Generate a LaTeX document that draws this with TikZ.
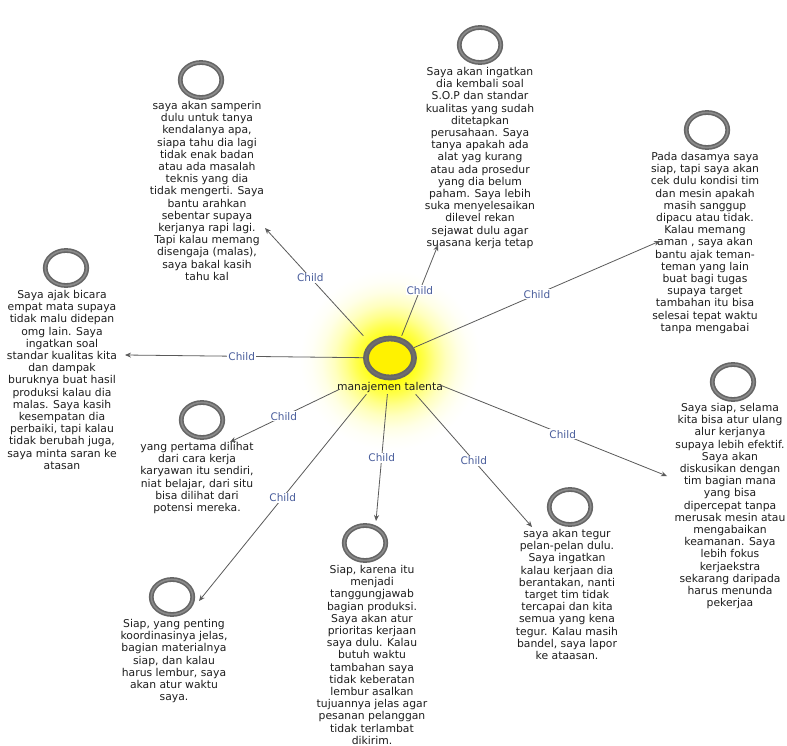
\documentclass[tikz,border=0pt]{standalone}
\usepackage{fontspec}
\setmainfont{DejaVu Sans}
\usetikzlibrary{arrows.meta,shapes.geometric}
\definecolor{ringgray}{HTML}{666666}
\definecolor{ringlight}{HTML}{8A8A8A}
\definecolor{edgegray}{HTML}{5A5A5A}
\definecolor{lblblue}{HTML}{4A5E9C}
\definecolor{txtcol}{HTML}{1E1E1E}
\pgfdeclareradialshading{glow}{\pgfpoint{0bp}{0bp}}{color(0bp)=(yellow); color(6bp)=(yellow!95); color(9.5bp)=(yellow!70); color(12.5bp)=(yellow!45); color(15.5bp)=(yellow!25); color(19bp)=(yellow!10); color(22bp)=(yellow!3); color(25bp)=(white); color(50bp)=(white)}
\begin{document}
\begin{tikzpicture}[x=1pt,y=-1pt]
\tikzset{
  kid/.style={ellipse, draw=ringgray, line width=4.8pt, minimum width=41.5pt, minimum height=35pt, inner sep=0pt,
    postaction={draw=ringlight, line width=1.6pt}},
  hubring/.style={ellipse, draw=ringgray, line width=5.8pt, fill=yellow, minimum width=48pt, minimum height=39pt, inner sep=0pt,
    postaction={draw=ringlight!80!black, line width=2pt}},
  say/.style={align=center, anchor=north, inner sep=0pt, text=txtcol, font=\fontsize{10.8}{12.2}\selectfont},
  link/.style={draw=edgegray, line width=0.8pt, -{Stealth[length=6pt,width=5pt]}},
  tag/.style={fill=white, text=lblblue, inner sep=1pt, font=\fontsize{10.5}{12}\selectfont},
}
\fill[white] (0,0) rectangle (787,746);
\useasboundingbox (0,0) rectangle (787,746);
\shade[shading=glow] (390,360) circle (90pt);

% hub
\node[hubring] (ring) at (390,358) {};
\node[text=txtcol, inner sep=0pt, font=\fontsize{10.8}{12.2}\selectfont] (hublabel) at (390,388) {manajemen talenta};
\node[minimum width=100pt, minimum height=58pt, inner sep=0pt] (hub) at (390,365) {};

% children circles
\node[kid] (c1) at (201,80) {};
\node[kid] (c2) at (480,45) {};
\node[kid] (c3) at (707,130) {};
\node[kid] (c4) at (66,268) {};
\node[kid] (c5) at (202,420) {};
\node[kid] (c6) at (733,382) {};
\node[kid] (c7) at (365,543) {};
\node[kid] (c8) at (570,507) {};
\node[kid] (c9) at (172,597) {};

% children texts
\node[say] (t1) at (207,101) {saya akan samperin\\dulu untuk tanya\\kendalanya apa,\\siapa tahu dia lagi\\tidak enak badan\\atau ada masalah\\teknis yang dia\\tidak mengerti. Saya\\bantu arahkan\\sebentar supaya\\kerjanya rapi lagi.\\Tapi kalau memang\\disengaja (malas),\\saya bakal kasih\\tahu kal};
\node[say] (t2) at (480,67) {Saya akan ingatkan\\dia kembali soal\\S.O.P dan standar\\kualitas yang sudah\\ditetapkan\\perusahaan. Saya\\tanya apakah ada\\alat yag kurang\\atau ada prosedur\\yang dia belum\\paham. Saya lebih\\suka menyelesaikan\\dilevel rekan\\sejawat dulu agar\\suasana kerja tetap};
\node[say] (t3) at (705,152) {Pada dasamya saya\\siap, tapi saya akan\\cek dulu kondisi tim\\dan mesin apakah\\masih sanggup\\dipacu atau tidak.\\Kalau memang\\aman , saya akan\\bantu ajak teman-\\teman yang lain\\buat bagi tugas\\supaya target\\tambahan itu bisa\\selesai tepat waktu\\tanpa mengabai};
\node[say] (t4) at (62,290) {Saya ajak bicara\\empat mata supaya\\tidak malu didepan\\omg lain. Saya\\ingatkan soal\\standar kualitas kita\\dan dampak\\buruknya buat hasil\\produksi kalau dia\\malas. Saya kasih\\kesempatan dia\\perbaiki, tapi kalau\\tidak berubah juga,\\saya minta saran ke\\atasan};
\node[say] (t5) at (197,442) {yang pertama dilihat\\dari cara kerja\\karyawan itu sendiri,\\niat belajar, dari situ\\bisa dilihat dari\\potensi mereka.};
\node[say] (t6) at (730,403) {Saya siap, selama\\kita bisa atur ulang\\alur kerjanya\\supaya lebih efektif.\\Saya akan\\diskusikan dengan\\tim bagian mana\\yang bisa\\dipercepat tanpa\\merusak mesin atau\\mengabaikan\\keamanan. Saya\\lebih fokus\\kerjaekstra\\sekarang daripada\\harus menunda\\pekerjaa};
\node[say] (t7) at (372,565) {Siap, karena itu\\menjadi\\tanggungjawab\\bagian produksi.\\Saya akan atur\\prioritas kerjaan\\saya dulu. Kalau\\butuh waktu\\tambahan saya\\tidak keberatan\\lembur asalkan\\tujuannya jelas agar\\pesanan pelanggan\\tidak terlambat\\dikirim.};
\node[say] (t8) at (567,529) {saya akan tegur\\pelan-pelan dulu.\\Saya ingatkan\\kalau kerjaan dia\\berantakan, nanti\\target tim tidak\\tercapai dan kita\\semua yang kena\\tegur. Kalau masih\\bandel, saya lapor\\ke ataasan.};
\node[say] (t9) at (174,619) {Siap, yang penting\\koordinasinya jelas,\\bagian materialnya\\siap, dan kalau\\harus lembur, saya\\akan atur waktu\\saya.};

% arrow end points
\coordinate (e1) at (265,228);
\coordinate (e2) at (438,245);
\coordinate (e3) at (660,241);
\coordinate (e4) at (125,355);
\coordinate (e5) at (230,442);
\coordinate (e6) at (667,476);
\coordinate (e7) at (376,521);
\coordinate (e8) at (532,527);
\coordinate (e9) at (199,601);

% connectors
\draw[link] (hub) -- node[tag, pos=0.54] {Child} (e1);
\draw[link] (hub) -- node[tag, pos=0.5] {Child} (e2);
\draw[link] (ring) -- node[tag, pos=0.5] {Child} (e3);
\draw[link] (ring) -- node[tag, pos=0.51] {Child} (e4);
\draw[link] (hub) -- node[tag, pos=0.51] {Child} (e5);
\draw[link] (hub) -- node[tag, pos=0.5] {Child} (e9);
\draw[link] (hub) -- node[tag, pos=0.5] {Child} (e7);
\draw[link] (hub) -- node[tag, pos=0.5] {Child} (e8);
\draw[link] (hub) -- node[tag, pos=0.54] {Child} (e6);
\end{tikzpicture}
\end{document}
